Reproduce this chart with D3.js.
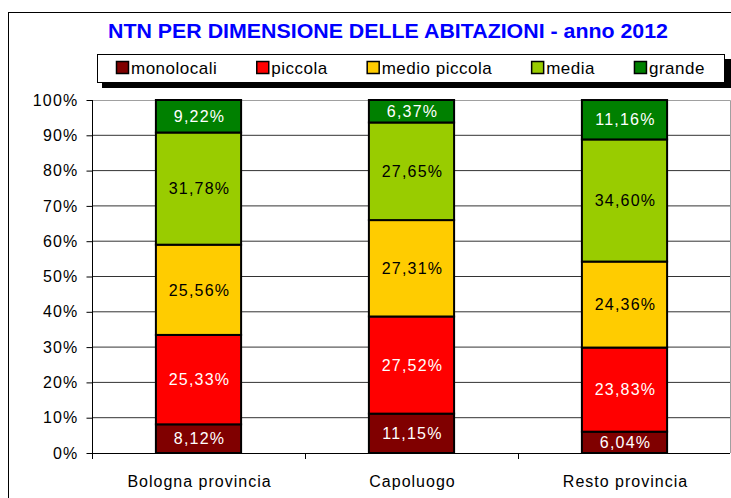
<!DOCTYPE html>
<html>
<head>
<meta charset="utf-8">
<script src="https://cdn.jsdelivr.net/npm/d3@7"></script>
<style>
  html, body { margin: 0; padding: 0; background: #fff; }
  svg { display: block; font-family: "Liberation Sans", Arial, sans-serif; }
</style>
</head>
<body>
<svg id="chart" width="731" height="498"></svg>
<script>
// ---- data ----
const categories = ["Bologna provincia", "Capoluogo", "Resto provincia"];
const seriesNames = ["monolocali", "piccola", "medio piccola", "media", "grande"];
const monolocali   = [8.12, 11.15, 6.04];
const piccola      = [25.33, 27.52, 23.83];
const medioPiccola = [25.56, 27.31, 24.36];
const media        = [31.78, 27.65, 34.60];
const grande       = [9.22, 6.37, 11.16];
const yTicks = [0, 10, 20, 30, 40, 50, 60, 70, 80, 90, 100];
const titleText = "NTN PER DIMENSIONE DELLE ABITAZIONI - anno 2012";

// ---- styles ----
const colors = ["#800000", "#FF0000", "#FFCC00", "#99CC00", "#008000"];
const labelColors = ["#ffffff", "#ffffff", "#000000", "#000000", "#ffffff"];

const seriesValues = [monolocali, piccola, medioPiccola, media, grande];
const rows = categories.map((c, i) => {
  const r = { cat: c };
  seriesNames.forEach((s, j) => r[s] = seriesValues[j][i]);
  return r;
});

const svg = d3.select("#chart");

// outer chart border
svg.append("rect")
  .attr("x", 8.5).attr("y", 12.5).attr("width", 760).attr("height", 520)
  .attr("fill", "#fff").attr("stroke", "#000").attr("stroke-width", 1);

// title
svg.append("text")
  .attr("x", 108).attr("y", 38)
  .attr("textLength", 560).attr("lengthAdjust", "spacingAndGlyphs")
  .attr("fill", "#0000FF").attr("font-weight", "bold").attr("font-size", 20)
  .text(titleText);

// legend
const lg = svg.append("g");
lg.append("rect").attr("x", 102).attr("y", 59).attr("width", 629).attr("height", 29).attr("fill", "#000");
lg.append("rect").attr("x", 97.5).attr("y", 54.5).attr("width", 627).attr("height", 28)
  .attr("fill", "#fff").attr("stroke", "#000").attr("stroke-width", 1);
let lx = 116;
seriesNames.forEach((s, i) => {
  lg.append("rect").attr("x", lx + 0.5).attr("y", 61.5).attr("width", 12).attr("height", 12)
    .attr("fill", colors[i]).attr("stroke", "#000").attr("stroke-width", 1.5);
  const t = lg.append("text").attr("x", lx + 15).attr("y", 74)
    .attr("font-size", 17).attr("letter-spacing", 0.5).attr("fill", "#000").text(s);
  const w = t.node().getComputedTextLength();
  lx = lx + 15 + w + 39;
});

// scales
const plotTop = 100, plotBottom = 453, plotLeft = 92, plotRight = 730;
const y = d3.scaleLinear().domain([0, 100]).range([plotBottom, plotTop]);
const x = d3.scaleBand().domain(categories).range([plotLeft, 731]).padding(0);
const barW = x.bandwidth() * 0.4;

// plot area border (gray)
svg.append("path")
  .attr("d", `M${plotLeft},${plotTop + 0.5}H${plotRight + 0.5}V${plotBottom}`)
  .attr("fill", "none").attr("stroke", "#a0a0a0").attr("stroke-width", 1);

// gridlines
svg.append("g").selectAll("line").data(yTicks.filter(d => d > 0 && d < 100)).join("line")
  .attr("x1", plotLeft).attr("x2", plotRight)
  .attr("y1", d => y(d)).attr("y2", d => y(d))
  .attr("stroke", "#333").attr("stroke-width", 1);

// y axis
const yAxis = svg.append("g").attr("transform", `translate(${plotLeft + 0.5},0)`)
  .call(d3.axisLeft(y).tickValues(yTicks).tickSize(6).tickPadding(8).tickFormat(d => d + "%"));
yAxis.select(".domain").remove();
yAxis.selectAll("line").attr("stroke", "#000");
yAxis.selectAll("text").attr("font-size", 16).attr("letter-spacing", 1.2)
  .attr("font-family", "Liberation Sans, Arial, sans-serif").attr("fill", "#000");
svg.append("line").attr("x1", plotLeft + 0.5).attr("x2", plotLeft + 0.5)
  .attr("y1", plotTop).attr("y2", plotBottom + 6).attr("stroke", "#000");

// x axis
svg.append("line").attr("x1", plotLeft).attr("x2", plotRight)
  .attr("y1", plotBottom + 0.5).attr("y2", plotBottom + 0.5).attr("stroke", "#000");
svg.append("g").selectAll("line").data(categories.slice(1)).join("line")
  .attr("x1", d => Math.round(x(d)) + 0.5).attr("x2", d => Math.round(x(d)) + 0.5)
  .attr("y1", plotBottom).attr("y2", plotBottom + 6).attr("stroke", "#000");
svg.append("g").selectAll("text").data(categories).join("text")
  .attr("x", d => x(d) + x.bandwidth() / 2 + 1).attr("y", 487)
  .attr("text-anchor", "middle").attr("font-size", 16).attr("letter-spacing", 1)
  .attr("fill", "#000").text(d => d);

// stacked bars
const stack = d3.stack().keys(seriesNames)(rows);
const layers = svg.append("g").selectAll("g").data(stack).join("g")
  .attr("fill", (d, i) => colors[i]);
layers.selectAll("rect").data(d => d).join("rect")
  .attr("x", d => x(d.data.cat) + x.bandwidth() / 2 - barW / 2)
  .attr("width", barW)
  .attr("y", d => y(Math.min(d[1], 100)))
  .attr("height", d => y(d[0]) - y(Math.min(d[1], 100)))
  .attr("stroke", "#000").attr("stroke-width", 2);

// labels
const lbl = svg.append("g");
stack.forEach((layer, i) => {
  lbl.selectAll(null).data(layer).join("text")
    .attr("x", d => x(d.data.cat) + x.bandwidth() / 2 + 1)
    .attr("y", d => (y(d[0]) + y(Math.min(d[1], 100))) / 2)
    .attr("dy", "0.36em")
    .attr("text-anchor", "middle").attr("font-size", 16).attr("letter-spacing", 1.2)
    .attr("fill", labelColors[i])
    .text(d => (d[1] - d[0]).toFixed(2).replace(".", ",") + "%");
});
</script>
</body>
</html>
